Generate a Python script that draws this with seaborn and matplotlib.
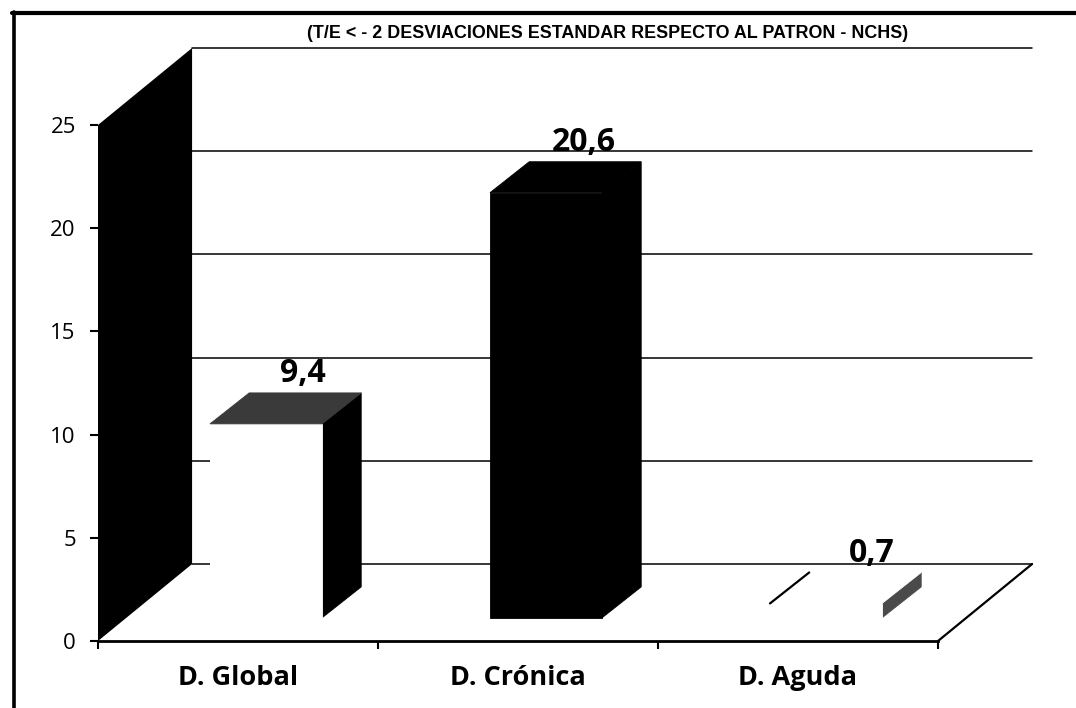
#!/usr/bin/env python3
# -*- coding: utf-8 -*-

import pandas as pd
import matplotlib
matplotlib.use('Agg')
import matplotlib.pyplot as plt
import seaborn as sns
from matplotlib.lines import Line2D
from matplotlib.transforms import Affine2D

# ============= data =============
categories = ['D. Global', 'D. Crónica', 'D. Aguda']
values = [9.4, 20.6, 0.7]
value_labels = ['9,4', '20,6', '0,7']
y_ticks = [0, 5, 10, 15, 20, 25]
title = '(T/E < - 2 DESVIACIONES ESTANDAR RESPECTO AL PATRON - NCHS)'

# fake 3D depth, in data units (cats / value)
WALL_DX, WALL_DY = 0.336, 3.73
BAR_OFF_X, BAR_OFF_Y = 0.1, 1.12
BAR_DX, BAR_DY = 0.14, 1.5
BAR_W = 0.4

front_cols = ['white', 'black', 'white']
top_cols = ['#3a3a3a', 'black', 'white']
side_cols = ['black', 'black', '#4a4a4a']
label_dx = [0.23, 0.235, 0.265]

W, H = 1076, 708
sns.set_theme(style='white')
plt.rcParams['font.family'] = ['Open Sans', 'DejaVu Sans']

fig = plt.figure(figsize=(W / 100, H / 100), dpi=100)
ax = fig.add_axes([98 / W, 1 - 641 / H, 840 / W, 516 / H])

df = pd.DataFrame({'cat': categories, 'val': values})
sns.barplot(data=df, x='cat', y='val', color='white', width=BAR_W, saturation=1,
            linewidth=0, zorder=4, ax=ax)

ax.set_xlim(-0.5, 2.5)
ax.set_ylim(0, 25)

# front faces sit a bit inside the floor
shift = Affine2D().translate(BAR_OFF_X, BAR_OFF_Y) + ax.transData
for bar, col in zip(ax.patches, front_cols):
    bar.set_facecolor(col)
    bar.set_edgecolor(col)
    bar.set_linewidth(0.6)
    bar.set_transform(shift)
    bar.set_clip_on(False)

# left wall
ax.fill([-0.5, -0.5, -0.5 + WALL_DX, -0.5 + WALL_DX],
        [0, 25, 25 + WALL_DY, WALL_DY],
        color='black', lw=0, clip_on=False, zorder=1)

# back grid lines + floor edge
for t in y_ticks:
    ax.plot([-0.5 + WALL_DX, 2.5 + WALL_DX], [t + WALL_DY, t + WALL_DY],
            color='black', lw=1.1, clip_on=False, zorder=2)
ax.plot([2.5, 2.5 + WALL_DX], [0, WALL_DY], color='black', lw=1.6, clip_on=False, zorder=2)

# bar sides and tops
for i, v in enumerate(values):
    x0 = i - BAR_W / 2 + BAR_OFF_X
    x1 = i + BAR_W / 2 + BAR_OFF_X
    y0 = BAR_OFF_Y
    y1 = v + BAR_OFF_Y
    ax.fill([x1, x1 + BAR_DX, x1 + BAR_DX, x1],
            [y0, y0 + BAR_DY, y1 + BAR_DY, y1],
            color=side_cols[i], lw=0.6, clip_on=False, zorder=3)
    ax.fill([x0, x0 + BAR_DX, x1 + BAR_DX, x1],
            [y1, y1 + BAR_DY, y1 + BAR_DY, y1],
            color=top_cols[i], lw=0.6, clip_on=False, zorder=5)
    # white wall behind the white bars, hides the back lines
    if front_cols[i] == 'white':
        ax.fill([x0, x0 + BAR_DX, x0 + BAR_DX, x0],
                [y0, y0 + BAR_DY, y1 + BAR_DY, y1],
                color='white', lw=0, clip_on=False, zorder=3)
    ax.text(i + label_dx[i], v + 3.55, value_labels[i], ha='center', va='center',
            fontsize=23, fontweight='bold', color='black', zorder=6)

# thin black edge on the left of the last bar top
x0 = 2 - BAR_W / 2 + BAR_OFF_X
ax.plot([x0, x0 + BAR_DX], [values[2] + BAR_OFF_Y, values[2] + BAR_OFF_Y + BAR_DY],
        color='black', lw=1.6, clip_on=False, zorder=6)

# axes
sns.despine(ax=ax, left=True, top=True, right=True)
ax.spines['bottom'].set_linewidth(2)
ax.spines['bottom'].set_color('black')
ax.set_xlabel('')
ax.set_ylabel('')
ax.set_yticks(y_ticks)
ax.set_yticklabels([str(t) for t in y_ticks], fontsize=16, color='black')
ax.tick_params(axis='y', left=True, length=6, width=1.5, color='black', pad=10)
ax.set_xticks(range(len(categories)))
ax.set_xticklabels(categories, fontsize=19.5, fontweight='bold', color='black')
ax.tick_params(axis='x', bottom=False, pad=11)
ax.set_xticks([-0.5, 0.5, 1.5, 2.5], minor=True)
ax.tick_params(axis='x', which='minor', bottom=True, length=6, width=1.5, color='black')
ax.set_facecolor('none')

fig.text(608 / W, 1 - 33 / H, title, ha='center', va='center', fontsize=12.9,
         fontweight='bold', color='black', family=['Liberation Sans'])

# scanned frame
fig.add_artist(Line2D([13.5 / W, 13.5 / W], [0, 1 - 12 / H], color='black', lw=2.6))
fig.add_artist(Line2D([12 / W, 1], [1 - 13 / H, 1 - 13 / H], color='black', lw=3))

fig.savefig('out.png', dpi=100)
